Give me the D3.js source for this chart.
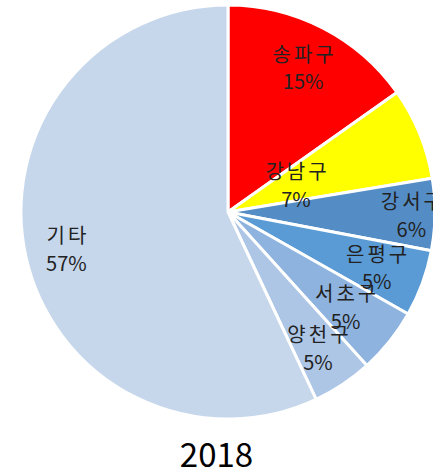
<!DOCTYPE html>
<html>
<head>
<meta charset="utf-8">
<script src="https://cdn.jsdelivr.net/npm/d3@7"></script>
<style>
  html, body { margin: 0; padding: 0; background: #fff; }
  svg { display: block; }
  text { font-family: "Noto Sans CJK KR", "Noto Sans", sans-serif; }
</style>
</head>
<body>
<svg id="chart" width="433" height="473"></svg>
<script>
// Data
const categories = ["송파구", "강남구", "강서구", "은평구", "서초구", "양천구", "기타"];
const values = [15.2, 7.2, 5.6, 5.2, 5.1, 4.7, 57.0];
const colors = ["#FF0000", "#FFFF00", "#548DC6", "#5B9BD5", "#8EB3DF", "#ADC6E6", "#C6D7EC"];
const title = "2018";
// label placement (fraction of radius, as placed in the original)
const labelRadius = [0.79, 0.355, 0.886, 0.765, 0.728, 0.784, 0.80];

const svg = d3.select("#chart");
const cx = 228, cy = 212, R = 207;

const total = d3.sum(values);
const data = categories.map((c, i) => ({ name: c, value: values[i], color: colors[i], lr: labelRadius[i] }));

const pie = d3.pie().sort(null).value(d => d.value);
const arcs = pie(data);
const arc = d3.arc().innerRadius(0).outerRadius(R);

const g = svg.append("g").attr("transform", `translate(${cx},${cy})`);

g.selectAll("path.slice")
  .data(arcs)
  .join("path")
  .attr("class", "slice")
  .attr("d", arc)
  .attr("fill", d => d.data.color)
  .attr("stroke", "#fff")
  .attr("stroke-width", 3)
  .attr("stroke-linejoin", "round");

const labels = g.selectAll("text.lbl")
  .data(arcs)
  .join("text")
  .attr("class", "lbl")
  .attr("text-anchor", "middle")
  .attr("font-size", 20)
  .attr("fill", "#222")
  .attr("transform", d => {
    const a = (d.startAngle + d.endAngle) / 2;
    const r = R * d.data.lr;
    return `translate(${r * Math.sin(a)},${-r * Math.cos(a)})`;
  });

labels.append("tspan")
  .attr("x", 1.5).attr("y", -13.5)
  .attr("letter-spacing", 3)
  .attr("dominant-baseline", "central")
  .text(d => d.data.name);
labels.append("tspan")
  .attr("x", 0).attr("y", 14)
  .attr("dominant-baseline", "central")
  .text(d => Math.round(d.data.value / total * 100) + "%");

svg.append("text")
  .attr("x", 216.5)
  .attr("y", 466.5)
  .attr("text-anchor", "middle")
  .attr("font-size", 33)
  .attr("fill", "#000")
  .text(title);
</script>
</body>
</html>
